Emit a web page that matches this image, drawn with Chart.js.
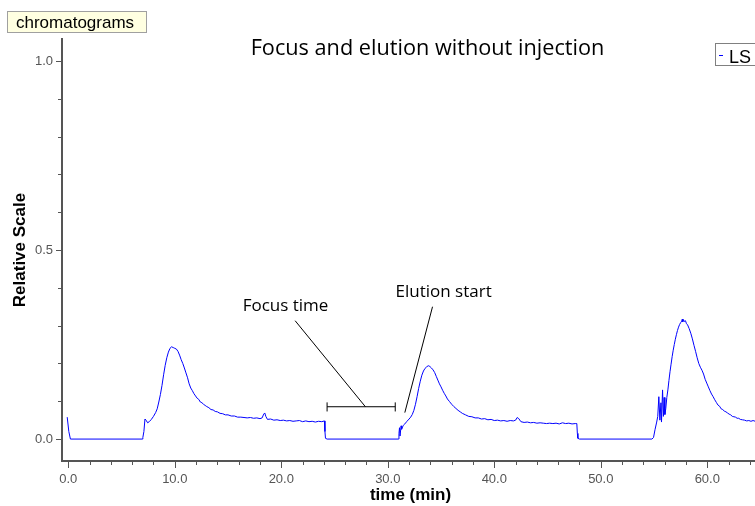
<!DOCTYPE html>
<html>
<head>
<meta charset="utf-8">
<script src="https://cdn.jsdelivr.net/npm/chart.js@4.4.1/dist/chart.umd.min.js"></script>
<style>
  html, body { margin: 0; padding: 0; background: #fff; }
  #chroma { display: block; }
</style>
</head>
<body>
<canvas id="chroma" width="755" height="506"></canvas>
<script>
/* LS chromatogram: focus + elution runs, no injection */

// retention time (min)
const timeMin = [
  -0.1, 0.05, 0.2, 6.95,
  7.0, 7.1, 7.2, 7.3, 7.45, 7.6, 7.8, 8.0, 8.2, 8.35, 8.5, 8.65, 8.8, 8.95, 9.1, 9.25, 9.4, 9.55, 9.7, 9.85,
  10.0, 10.15, 10.3, 10.45, 10.6, 10.75, 10.9, 11.05, 11.2, 11.35, 11.5, 11.65, 11.8, 11.95, 12.1, 12.25,
  12.4, 12.55, 12.7, 12.85, 13.0, 13.2, 13.4, 13.6, 13.8, 14.0, 14.25, 14.5, 14.75, 15.0, 15.3, 15.6,
  15.9, 16.2, 16.5, 16.8, 17.1, 17.4, 17.7, 18.0, 18.2, 18.35, 18.45, 18.55, 18.7, 19.0, 19.3, 19.6,
  19.9, 20.2, 20.5, 20.8, 21.1, 21.4, 21.7, 22.0, 22.3, 22.6, 22.9, 23.2, 23.5, 23.8, 24.05, 24.1, 24.15, 24.3,
  31.0, 31.05, 31.1, 31.15, 31.25, 31.3, 31.45, 31.6, 31.8, 32.0, 32.15, 32.3, 32.45, 32.6, 32.75, 32.9,
  33.05, 33.2, 33.35, 33.5, 33.65, 33.8, 33.95, 34.1, 34.25, 34.4, 34.55, 34.7, 34.85, 35.0, 35.15, 35.3,
  35.45, 35.6, 35.8, 36.0, 36.2, 36.4, 36.6, 36.8, 37.0, 37.3, 37.6, 37.9, 38.2, 38.5, 38.8, 39.1, 39.4,
  39.7, 40.0, 40.3, 40.6, 40.9, 41.2, 41.5, 41.8, 42.0, 42.15, 42.3, 42.5, 42.8, 43.1, 43.4, 43.7, 44.0,
  44.3, 44.6, 44.9, 45.2, 45.5, 45.8, 46.1, 46.4, 46.7, 47.0, 47.3, 47.6, 47.75, 47.8, 47.85, 48.0,
  54.8, 54.95, 55.1, 55.25, 55.35, 55.45, 55.55, 55.65, 55.7, 55.8, 55.88, 55.95, 56.02, 56.1, 56.2, 56.3,
  56.4, 56.5, 56.6, 56.7, 56.8, 56.9, 57.0, 57.1, 57.2, 57.3, 57.4, 57.5, 57.6, 57.65, 57.7, 57.75, 57.85,
  57.95, 58.05, 58.15, 58.3, 58.45, 58.6, 58.75, 58.9, 59.05, 59.2, 59.35, 59.5, 59.65, 59.8, 59.95, 60.1,
  60.25, 60.4, 60.55, 60.7, 60.85, 61.0, 61.15, 61.3, 61.45, 61.6, 61.75, 61.9, 62.05, 62.2, 62.35, 62.5,
  62.65, 62.8, 62.95, 63.1, 63.3, 63.5, 63.7, 63.9, 64.1, 64.3, 64.5, 64.7
];

// LS detector, relative scale
const lsSignal = [
  0.058, 0.02, 0.0, 0.0,
  0.004, 0.02, 0.053, 0.05, 0.043, 0.046, 0.052, 0.06, 0.07, 0.08, 0.098, 0.118, 0.142, 0.17, 0.195, 0.215, 0.23, 0.24, 0.244, 0.242,
  0.24, 0.238, 0.232, 0.222, 0.21, 0.2, 0.188, 0.175, 0.162, 0.146, 0.135, 0.128, 0.12, 0.114, 0.108, 0.105,
  0.098, 0.096, 0.092, 0.089, 0.086, 0.083, 0.078, 0.077, 0.073, 0.072, 0.068, 0.067, 0.064, 0.064, 0.061, 0.061,
  0.058, 0.058, 0.057, 0.056, 0.057, 0.055, 0.056, 0.054, 0.056, 0.066, 0.069, 0.060, 0.052, 0.053, 0.050, 0.051,
  0.049, 0.050, 0.048, 0.049, 0.047, 0.048, 0.049, 0.046, 0.048, 0.046, 0.047, 0.045, 0.047, 0.046, 0.048, 0.02, 0.002, 0.0,
  0.0, 0.015, 0.03, 0.008, 0.035, 0.026, 0.036, 0.04, 0.047, 0.053, 0.058, 0.065, 0.076, 0.092, 0.112, 0.134,
  0.153, 0.169, 0.18, 0.187, 0.191, 0.194, 0.192, 0.188, 0.183, 0.176, 0.166, 0.156, 0.146, 0.138, 0.129, 0.121,
  0.114, 0.106, 0.099, 0.092, 0.086, 0.081, 0.076, 0.072, 0.068, 0.064, 0.060, 0.059, 0.056, 0.056, 0.053, 0.054, 0.051,
  0.052, 0.049, 0.050, 0.048, 0.049, 0.047, 0.049, 0.048, 0.050, 0.057, 0.054, 0.046, 0.044, 0.045, 0.043, 0.044, 0.042,
  0.043, 0.042, 0.041, 0.042, 0.041, 0.042, 0.040, 0.043, 0.041, 0.042, 0.040, 0.041, 0.041, 0.015, 0.002, 0.0,
  0.0, 0.004, 0.026, 0.045, 0.06, 0.112, 0.05, 0.096, 0.045, 0.13, 0.06, 0.11, 0.065, 0.08, 0.11, 0.13,
  0.155, 0.178, 0.198, 0.218, 0.235, 0.25, 0.264, 0.276, 0.287, 0.296, 0.303, 0.308, 0.312, 0.317, 0.31, 0.316, 0.311,
  0.313, 0.305, 0.302, 0.292, 0.28, 0.265, 0.248, 0.232, 0.215, 0.2, 0.19, 0.182, 0.172, 0.158, 0.148, 0.138,
  0.128, 0.119, 0.112, 0.104, 0.097, 0.09, 0.087, 0.08, 0.078, 0.074, 0.072, 0.069, 0.066, 0.064, 0.06, 0.059,
  0.058, 0.055, 0.055, 0.052, 0.051, 0.050, 0.048, 0.049, 0.047, 0.049, 0.047, 0.048
];

// annotation marks, in axis units (min, relative scale)
const focusBarX = [24.3, 30.7];
const focusBarY = 0.0855;
const focusCapY = [0.073, 0.097];
const focusLeader = [[21.3, 0.313], [27.9, 0.0855]];
const elutionLeader = [[34.2, 0.35], [31.6, 0.07]];
const notes = [
  { text: 'Focus time', x: 20.4, y: 0.339 },
  { text: 'Elution start', x: 35.24, y: 0.376 }
];

const xRange = [-0.59, 64.48];
const yRange = [-0.058, 1.058];

const AXIS = '#555';
const BLUE = '#0000ff';
const pts = (arr) => arr.map(p => ({ x: p[0], y: p[1] }));
const blackLine = (data) => ({ data, borderColor: '#000', borderWidth: 1, pointRadius: 0, tension: 0 });

// short ticks outside the frame, longer on labelled values
const tickMarks = {
  id: 'tickMarks',
  afterDraw(chart) {
    const c = chart.ctx, a = chart.chartArea;
    const xs = chart.scales.x, ys = chart.scales.y;
    c.save();
    c.strokeStyle = AXIS;
    c.lineWidth = 1;
    c.beginPath();
    xs.ticks.forEach(t => {
      const px = Math.round(xs.getPixelForValue(t.value)) + 0.5;
      const len = Math.abs(t.value % 10) < 1e-6 ? 6 : 3;
      c.moveTo(px, a.bottom + 1);
      c.lineTo(px, a.bottom + 1 + len);
    });
    ys.ticks.forEach(t => {
      const py = Math.round(ys.getPixelForValue(t.value)) + 0.5;
      const major = Math.abs(Math.round(t.value * 2) - t.value * 2) < 1e-6;
      const len = major ? 5 : 3;
      c.moveTo(a.left - 1, py);
      c.lineTo(a.left - 1 - len, py);
    });
    c.stroke();
    c.restore();
  }
};

// boxes, title, axis titles and the callouts
const decorations = {
  id: 'decorations',
  afterDraw(chart) {
    const c = chart.ctx;
    const xs = chart.scales.x, ys = chart.scales.y;
    c.save();

    c.fillStyle = '#ffffe1';
    c.strokeStyle = '#a0a0a0';
    c.lineWidth = 1;
    c.fillRect(7.5, 11.5, 139, 21);
    c.strokeRect(7.5, 11.5, 139, 21);
    c.fillStyle = '#000';
    c.font = '17px "Liberation Sans", Arial, sans-serif';
    c.textAlign = 'left';
    c.textBaseline = 'alphabetic';
    c.fillText('chromatograms', 16, 28);

    c.font = '21.7px "Open Sans", sans-serif';
    c.textAlign = 'center';
    c.fillText('Focus and elution without injection', 427.5, 55);

    // legend
    c.fillStyle = '#fff';
    c.strokeStyle = '#808080';
    c.fillRect(715.5, 43.5, 50, 22);
    c.strokeRect(715.5, 43.5, 50, 22);
    c.strokeStyle = BLUE;
    c.beginPath();
    c.moveTo(719, 55.5);
    c.lineTo(723, 55.5);
    c.stroke();
    c.fillStyle = '#000';
    c.font = '18px "Liberation Sans", Arial, sans-serif';
    c.textAlign = 'left';
    c.fillText('LS', 729, 63);

    c.font = 'bold 17px "Liberation Sans", Arial, sans-serif';
    c.textAlign = 'center';
    c.fillText('time (min)', 410.5, 500);
    c.save();
    c.translate(25, 250);
    c.rotate(-Math.PI / 2);
    c.fillText('Relative Scale', 0, 0);
    c.restore();

    c.font = '17px "Open Sans", sans-serif';
    notes.forEach(n => {
      c.fillText(n.text, xs.getPixelForValue(n.x), ys.getPixelForValue(n.y));
    });
    c.restore();
  }
};

new Chart(document.getElementById('chroma'), {
  type: 'line',
  data: {
    datasets: [
      {
        label: 'LS',
        data: timeMin.map((t, i) => ({ x: t, y: lsSignal[i] })),
        borderColor: BLUE,
        borderWidth: 1,
        pointRadius: 0,
        tension: 0
      },
      blackLine(pts([[focusBarX[0], focusBarY], [focusBarX[1], focusBarY]])),
      blackLine(pts([[focusBarX[0], focusCapY[0]], [focusBarX[0], focusCapY[1]]])),
      blackLine(pts([[focusBarX[1], focusCapY[0]], [focusBarX[1], focusCapY[1]]])),
      blackLine(pts(focusLeader)),
      blackLine(pts(elutionLeader))
    ]
  },
  options: {
    responsive: false,
    animation: false,
    events: [],
    layout: { autoPadding: false, padding: { top: 39, right: 0, left: 0, bottom: 0 } },
    plugins: { legend: { display: false }, tooltip: { enabled: false } },
    scales: {
      x: {
        type: 'linear',
        min: xRange[0], max: xRange[1],
        afterFit: s => { s.height = 45; s.paddingLeft = 0; s.paddingRight = 0; },
        grid: { display: false, drawTicks: false },
        border: { display: true, color: AXIS, width: 2 },
        ticks: {
          stepSize: 2, includeBounds: false, autoSkip: false, maxRotation: 0, padding: 11,
          color: AXIS, font: { family: 'Liberation Sans', size: 13 },
          callback: v => Math.abs(v % 10) < 1e-6 ? v.toFixed(1) : ''
        }
      },
      y: {
        min: yRange[0], max: yRange[1],
        afterFit: s => { s.width = 62; s.paddingTop = 0; s.paddingBottom = 0; },
        grid: { display: false, drawTicks: false },
        border: { display: true, color: AXIS, width: 2 },
        ticks: {
          stepSize: 0.1, includeBounds: false, autoSkip: false, padding: 9,
          color: AXIS, font: { family: 'Liberation Sans', size: 13 },
          callback: v => {
            const h = Math.round(v * 2);
            return Math.abs(h - v * 2) < 1e-6 ? (h / 2).toFixed(1) : '';
          }
        }
      }
    }
  },
  plugins: [tickMarks, decorations]
});
</script>
</body>
</html>
